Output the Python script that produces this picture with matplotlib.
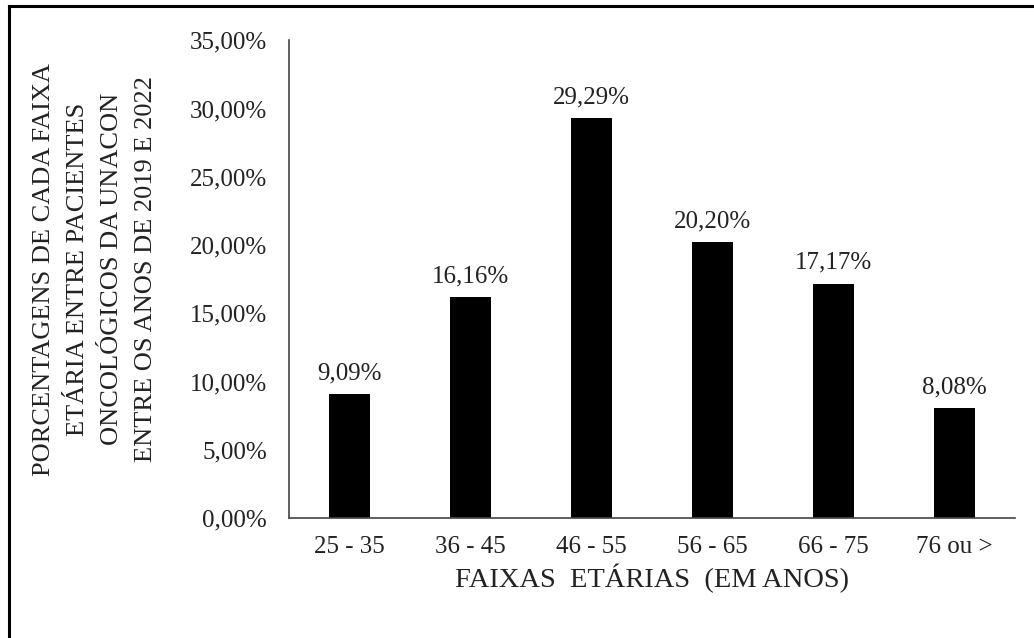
import matplotlib.pyplot as plt
from matplotlib.lines import Line2D
from matplotlib.ticker import FuncFormatter

faixas = ["25 - 35", "36 - 45", "46 - 55", "56 - 65", "66 - 75", "76 ou >"]
percentuais = [9.09, 16.16, 29.29, 20.20, 17.17, 8.08]
yticks = [0, 5, 10, 15, 20, 25, 30, 35]

plt.rcParams['font.family'] = ['Liberation Serif', 'DejaVu Serif']

def pct(v):
    return f"{v:.2f}".replace(".", ",") + "%"

fig = plt.figure(figsize=(10.34, 6.38), dpi=100)
ax = fig.add_axes([0.2795, 0.188, 0.7021, 0.749])

x = range(len(faixas))
ax.bar(x, percentuais, width=0.345, color="black")
for xi, v in zip(x, percentuais):
    ax.annotate(pct(v), (xi, v), xytext=(0, 7), textcoords="offset points",
                ha="center", va="bottom", fontsize=18, color="#222222")

ax.set_xlim(-0.5, 5.5)
ax.set_ylim(0, 35)
ax.set_yticks(yticks)
ax.yaxis.set_major_formatter(FuncFormatter(lambda v, _: pct(v)))
ax.set_xticks(list(x))
ax.set_xticklabels(faixas)
ax.tick_params(length=0, labelsize=18, labelcolor="#222222")
ax.tick_params(axis="y", pad=16)
ax.tick_params(axis="x", pad=13)

for s in ["top", "right"]:
    ax.spines[s].set_visible(False)
for s in ["left", "bottom"]:
    ax.spines[s].set_color("#444444")
    ax.spines[s].set_linewidth(1.2)

ax.set_xlabel("FAIXAS  ETÁRIAS  (EM ANOS)", fontsize=20.5, color="#222222", labelpad=4)

fig.text(0.092, 0.578,
         "PORCENTAGENS DE CADA FAIXA\nETÁRIA ENTRE PACIENTES\n"
         "ONCOLÓGICOS DA UNACON\nENTRE OS ANOS DE 2019 E 2022",
         rotation=90, ha="center", va="center", multialignment="center",
         fontsize=19, linespacing=1.7, color="#222222")

# moldura (só esquerda e topo aparecem)
fig.add_artist(Line2D([9 / 1034, 9 / 1034], [0, 1 - 5.5 / 638],
                      transform=fig.transFigure, color="black", lw=2.2))
fig.add_artist(Line2D([9 / 1034, 1], [1 - 5.5 / 638, 1 - 5.5 / 638],
                      transform=fig.transFigure, color="black", lw=2.2))

fig.savefig("out.png", dpi=100)
